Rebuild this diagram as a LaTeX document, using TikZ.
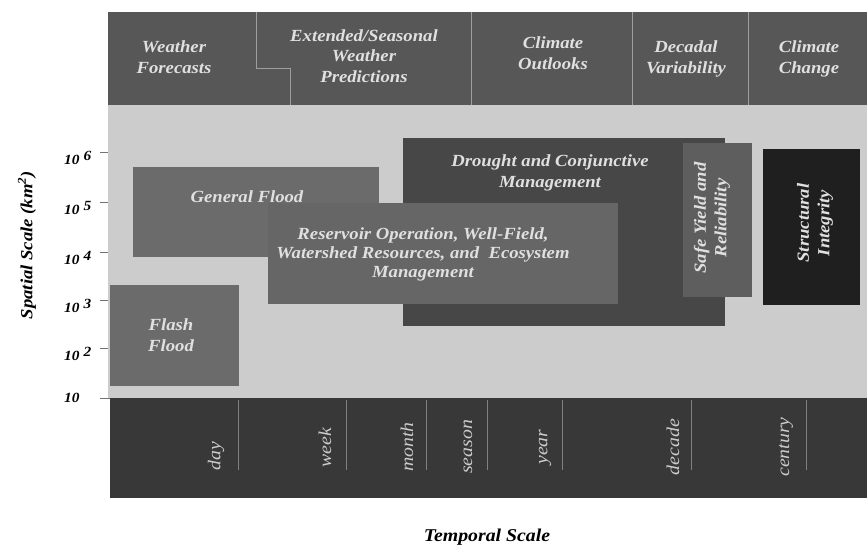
\documentclass[tikz,border=0pt]{standalone}
\usepackage{fontspec}
\setmainfont{Liberation Serif}
\newfontfamily\widefont[FakeStretch=1.1]{Liberation Serif}
\begin{document}
\begin{tikzpicture}[x=1pt,y=-1pt,
  band/.style={fill=#1, draw=none},
  lbl/.style={text=white!88!black, font=\widefont\fontsize{17}{20.5}\selectfont\bfseries\itshape, align=center, inner sep=0pt},
  tlbl/.style={text=white!80!black, font=\widefont\fontsize{18}{20}\selectfont\itshape, rotate=90, inner sep=0pt},
  axlbl/.style={font=\widefont\fontsize{14}{16}\selectfont\bfseries\itshape, anchor=west, inner sep=0pt},
  sep/.style={draw=white!62!black, line width=0.8pt},
  tsep/.style={draw=white!50!black, line width=0.8pt}]
\useasboundingbox (0,0) rectangle (867,545);
\fill[white] (0,0) rectangle (867,545);

% forecast band
\fill[band=black!66] (108,12) rectangle (867,105);
\draw[sep] (256,12) -- (256,68) -- (290,68) -- (290,105);
\draw[sep] (471,12) -- (471,105);
\draw[sep] (632,12) -- (632,105);
\draw[sep] (748,12) -- (748,105);
\node[lbl] (wf) at (174,57) {Weather\\Forecasts};
\node[lbl] (esw) at (364,56) {Extended/Seasonal\\Weather\\Predictions};
\node[lbl] (co) at (553,53) {Climate\\Outlooks};
\node[lbl] (dv) at (686,59) {Decadal\\Variability};
\node[lbl] (cc) at (809,59) {Climate\\Change};

% plotting field
\fill[band=black!20] (108,105) rectangle (867,398);

% spatial axis
\foreach \yy/\ee [count=\i] in {152/6,202/5,252/4,300/3,348/2} {
  \draw[black!55, line width=0.6pt] (100,\yy) -- (108,\yy);
  \node[axlbl] (ax\i) at (64,\yy+6) {10\hspace{4pt}\raisebox{0.6ex}{\ee}};
}
\draw[black!55, line width=0.6pt] (100,398) -- (110,398);
\node[axlbl] (ax0) at (64,398) {10};
\node[font=\widefont\fontsize{17}{19}\selectfont\bfseries\itshape, rotate=90, inner sep=0pt] (spatial) at (27,245) {Spatial Scale (km\textsuperscript{2})};

% activity boxes
\fill[band=black!58] (133,167) rectangle (379,257);
\node[lbl] (gf) at (247,197) {General Flood};
\fill[band=black!58] (110,285) rectangle (239,386);
\node[lbl] (ff) at (171,335) {Flash\\Flood};
\fill[band=black!72] (403,138) rectangle (725,326);
\node[lbl] (dcm) at (550,173) {Drought and Conjunctive\\Management};
\fill[band=black!60] (268,203) rectangle (618,304);
\node[lbl, font=\widefont\fontsize{17}{19}\selectfont\bfseries\itshape] (rwe) at (423,254) {Reservoir Operation, Well-Field,\\Watershed Resources, and\ \ Ecosystem\\Management};
\fill[band=black!63] (683,143) rectangle (752,297);
\node[lbl, rotate=90] (syr) at (712,218) {Safe Yield and\\Reliability};
\fill[band=black!88] (763,149) rectangle (860,305);
\node[lbl, rotate=90] (si) at (815,223) {Structural\\Integrity};

% temporal band
\fill[band=black!78] (110,398) rectangle (867,498);
\foreach \xx in {238,346,426,487,562,691,806} {
  \draw[tsep] (\xx,400) -- (\xx,470);
}
\node[tlbl] (tday) at (216,456) {day};
\node[tlbl] (tweek) at (325,448) {week};
\node[tlbl] (tmonth) at (407,447) {month};
\node[tlbl] (tseason) at (468,447) {season};
\node[tlbl] (tyear) at (545,447) {year};
\node[tlbl] (tdecade) at (673,447) {decade};
\node[tlbl] (tcentury) at (786,447) {century};
\node[font=\widefont\fontsize{18}{20}\selectfont\bfseries\itshape, inner sep=0pt] (temporal) at (487,537) {Temporal Scale};
\end{tikzpicture}
\end{document}
